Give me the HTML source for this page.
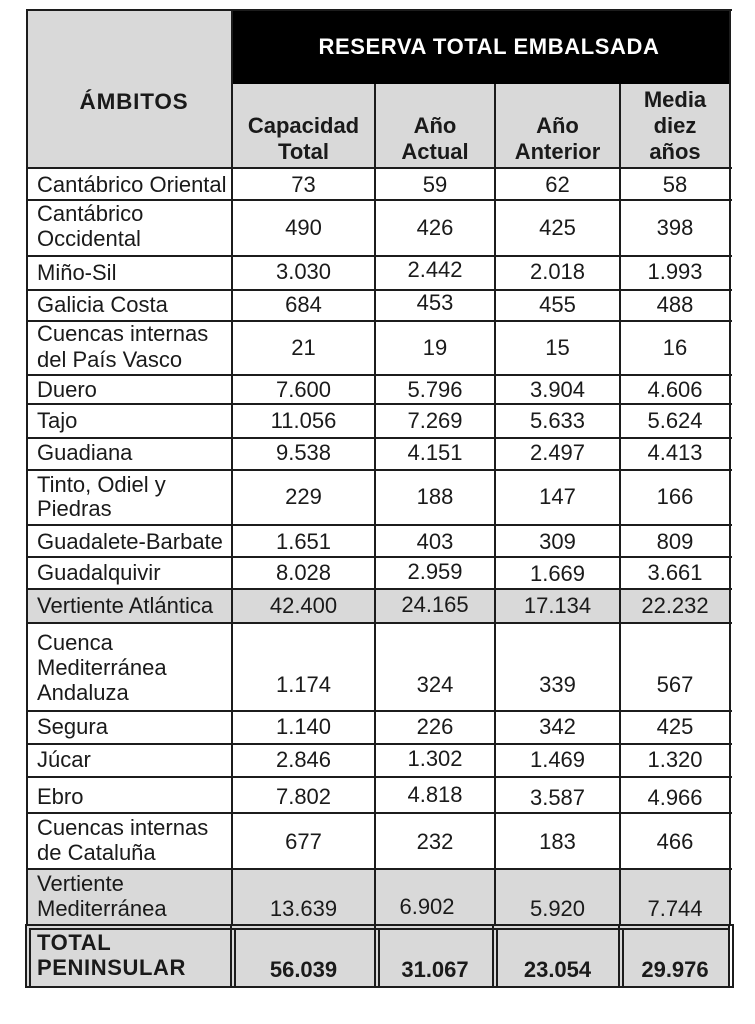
<!DOCTYPE html>
<html><head><meta charset="utf-8">
<style>
html,body{margin:0;padding:0;background:#fff;}
body{width:755px;height:1024px;position:relative;overflow:hidden;font-family:"Liberation Sans",Arial,sans-serif;color:#1a1a1a;}
.bg{position:absolute;}
.h{position:absolute;height:2px;background:#1c1c1c;}
.v{position:absolute;width:2px;background:#1c1c1c;}
.hs{position:absolute;height:1.5px;background:#1c1c1c;}
.vs{position:absolute;width:1.5px;background:#1c1c1c;}
.t{position:absolute;font-size:22px;line-height:25px;white-space:nowrap;letter-spacing:0;}
.c1{left:232px;width:143px;text-align:center;}
.c2{left:375px;width:120px;text-align:center;}
.c3{left:495px;width:125px;text-align:center;}
.c4{left:620px;width:110px;text-align:center;}
.l{left:37px;}
.b{font-weight:bold;}
.hd{position:absolute;font-weight:bold;font-size:22px;line-height:26px;text-align:center;white-space:nowrap;color:#1a1a1a;}
</style></head>
<body>
<!-- backgrounds -->
<div class="bg" style="left:27px;top:10px;width:205px;height:158px;background:#d9d9d9"></div>
<div class="bg" style="left:232px;top:10px;width:498px;height:74px;background:#000"></div>
<div class="bg" style="left:232px;top:84px;width:498px;height:84px;background:#d9d9d9"></div>
<div class="bg" style="left:27px;top:589px;width:703px;height:34px;background:#d9d9d9"></div>
<div class="bg" style="left:27px;top:869px;width:703px;height:118px;background:#d9d9d9"></div>

<!-- horizontal lines -->
<div class="h" style="left:27px;width:705px;top:9px"></div>
<div class="h" style="left:27px;width:705px;top:167px"></div>
<div class="h" style="left:27px;width:705px;top:199px"></div>
<div class="h" style="left:27px;width:705px;top:255px"></div>
<div class="h" style="left:27px;width:705px;top:289px"></div>
<div class="h" style="left:27px;width:705px;top:320px"></div>
<div class="h" style="left:27px;width:705px;top:374px"></div>
<div class="h" style="left:27px;width:705px;top:403px"></div>
<div class="h" style="left:27px;width:705px;top:437px"></div>
<div class="h" style="left:27px;width:705px;top:469px"></div>
<div class="h" style="left:27px;width:705px;top:524px"></div>
<div class="h" style="left:27px;width:705px;top:556px"></div>
<div class="h" style="left:27px;width:705px;top:588px"></div>
<div class="h" style="left:27px;width:705px;top:622px"></div>
<div class="h" style="left:27px;width:705px;top:710px"></div>
<div class="h" style="left:27px;width:705px;top:743px"></div>
<div class="h" style="left:27px;width:705px;top:776px"></div>
<div class="h" style="left:27px;width:705px;top:812px"></div>
<div class="h" style="left:27px;width:705px;top:868px"></div>
<div class="h" style="left:25px;width:708px;top:924px"></div>
<div class="hs" style="left:29px;width:700px;top:928px"></div>
<div class="h" style="left:25px;width:708px;top:986px"></div>

<!-- vertical lines -->
<div class="v" style="left:26px;top:9px;height:916px"></div>
<div class="v" style="left:231px;top:9px;height:916px"></div>
<div class="v" style="left:374px;top:84px;height:841px"></div>
<div class="v" style="left:494px;top:84px;height:841px"></div>
<div class="v" style="left:619px;top:84px;height:841px"></div>
<div class="v" style="left:729px;top:9px;height:916px"></div>

<!-- total row double borders -->
<div class="vs" style="left:25px;top:924px;height:64px"></div>
<div class="vs" style="left:29px;top:928px;height:60px"></div>
<div class="vs" style="left:230px;top:924px;height:64px"></div>
<div class="vs" style="left:234px;top:928px;height:60px"></div>
<div class="v" style="left:374px;top:924px;height:64px"></div>
<div class="vs" style="left:378px;top:928px;height:60px"></div>
<div class="vs" style="left:492px;top:924px;height:64px"></div>
<div class="vs" style="left:496px;top:928px;height:60px"></div>
<div class="vs" style="left:618px;top:924px;height:64px"></div>
<div class="vs" style="left:622px;top:928px;height:60px"></div>
<div class="vs" style="left:728px;top:924px;height:64px"></div>
<div class="vs" style="left:732px;top:924px;height:64px"></div>

<!-- headers -->
<div class="hd" style="left:34px;width:200px;top:89px;font-size:22.5px;letter-spacing:0.8px">ÁMBITOS</div>
<div class="hd" style="left:289px;width:400px;top:34px;font-size:22px;letter-spacing:0.6px;color:#fff">RESERVA TOTAL EMBALSADA</div>
<div class="hd" style="left:232px;width:143px;top:113px">Capacidad<br>Total</div>
<div class="hd" style="left:375px;width:120px;top:113px">Año<br>Actual</div>
<div class="hd" style="left:495px;width:125px;top:113px">Año<br>Anterior</div>
<div class="hd" style="left:620px;width:110px;top:87px">Media<br>diez<br>años</div>

<!-- labels -->
<div class="t l" style="top:172px">Cantábrico Oriental</div>
<div class="t l" style="top:201px">Cantábrico<br>Occidental</div>
<div class="t l" style="top:260px">Miño-Sil</div>
<div class="t l" style="top:292px">Galicia Costa</div>
<div class="t l" style="top:321px;line-height:26px">Cuencas internas<br>del País Vasco</div>
<div class="t l" style="top:377px">Duero</div>
<div class="t l" style="top:408px">Tajo</div>
<div class="t l" style="top:440px">Guadiana</div>
<div class="t l" style="top:473px;line-height:24px">Tinto, Odiel y<br>Piedras</div>
<div class="t l" style="top:529px">Guadalete-Barbate</div>
<div class="t l" style="top:560px">Guadalquivir</div>
<div class="t l" style="top:593px">Vertiente Atlántica</div>
<div class="t l" style="top:630px">Cuenca<br>Mediterránea<br>Andaluza</div>
<div class="t l" style="top:714px">Segura</div>
<div class="t l" style="top:747px">Júcar</div>
<div class="t l" style="top:784px">Ebro</div>
<div class="t l" style="top:815px">Cuencas internas<br>de Cataluña</div>
<div class="t l" style="top:871px">Vertiente<br>Mediterránea</div>
<div class="t l b" style="top:930px;letter-spacing:0.6px">TOTAL<br>PENINSULAR</div>

<!-- numbers -->
<div class="t c1" style="top:172px">73</div><div class="t c2" style="top:172px">59</div><div class="t c3" style="top:172px">62</div><div class="t c4" style="top:172px">58</div>
<div class="t c1" style="top:215px">490</div><div class="t c2" style="top:215px">426</div><div class="t c3" style="top:215px">425</div><div class="t c4" style="top:215px">398</div>
<div class="t c1" style="top:259px">3.030</div><div class="t c2" style="top:257px">2.442</div><div class="t c3" style="top:259px">2.018</div><div class="t c4" style="top:259px">1.993</div>
<div class="t c1" style="top:292px">684</div><div class="t c2" style="top:290px">453</div><div class="t c3" style="top:292px">455</div><div class="t c4" style="top:292px">488</div>
<div class="t c1" style="top:335px">21</div><div class="t c2" style="top:335px">19</div><div class="t c3" style="top:335px">15</div><div class="t c4" style="top:335px">16</div>
<div class="t c1" style="top:377px">7.600</div><div class="t c2" style="top:377px">5.796</div><div class="t c3" style="top:377px">3.904</div><div class="t c4" style="top:377px">4.606</div>
<div class="t c1" style="top:408px">11.056</div><div class="t c2" style="top:408px">7.269</div><div class="t c3" style="top:408px">5.633</div><div class="t c4" style="top:408px">5.624</div>
<div class="t c1" style="top:440px">9.538</div><div class="t c2" style="top:440px">4.151</div><div class="t c3" style="top:440px">2.497</div><div class="t c4" style="top:440px">4.413</div>
<div class="t c1" style="top:484px">229</div><div class="t c2" style="top:484px">188</div><div class="t c3" style="top:484px">147</div><div class="t c4" style="top:484px">166</div>
<div class="t c1" style="top:529px">1.651</div><div class="t c2" style="top:529px">403</div><div class="t c3" style="top:529px">309</div><div class="t c4" style="top:529px">809</div>
<div class="t c1" style="top:560px">8.028</div><div class="t c2" style="top:559px">2.959</div><div class="t c3" style="top:561px">1.669</div><div class="t c4" style="top:560px">3.661</div>
<div class="t c1" style="top:593px">42.400</div><div class="t c2" style="top:592px">24.165</div><div class="t c3" style="top:593px">17.134</div><div class="t c4" style="top:593px">22.232</div>
<div class="t c1" style="top:672px">1.174</div><div class="t c2" style="top:672px">324</div><div class="t c3" style="top:672px">339</div><div class="t c4" style="top:672px">567</div>
<div class="t c1" style="top:714px">1.140</div><div class="t c2" style="top:714px">226</div><div class="t c3" style="top:714px">342</div><div class="t c4" style="top:714px">425</div>
<div class="t c1" style="top:747px">2.846</div><div class="t c2" style="top:746px">1.302</div><div class="t c3" style="top:747px">1.469</div><div class="t c4" style="top:747px">1.320</div>
<div class="t c1" style="top:784px">7.802</div><div class="t c2" style="top:782px">4.818</div><div class="t c3" style="top:785px">3.587</div><div class="t c4" style="top:785px">4.966</div>
<div class="t c1" style="top:829px">677</div><div class="t c2" style="top:829px">232</div><div class="t c3" style="top:829px">183</div><div class="t c4" style="top:829px">466</div>
<div class="t c1" style="top:896px">13.639</div><div class="t c2" style="top:894px;left:367px">6.902</div><div class="t c3" style="top:896px">5.920</div><div class="t c4" style="top:896px">7.744</div>
<div class="t c1 b" style="top:957px">56.039</div><div class="t c2 b" style="top:957px">31.067</div><div class="t c3 b" style="top:957px">23.054</div><div class="t c4 b" style="top:957px">29.976</div>
</body></html>
